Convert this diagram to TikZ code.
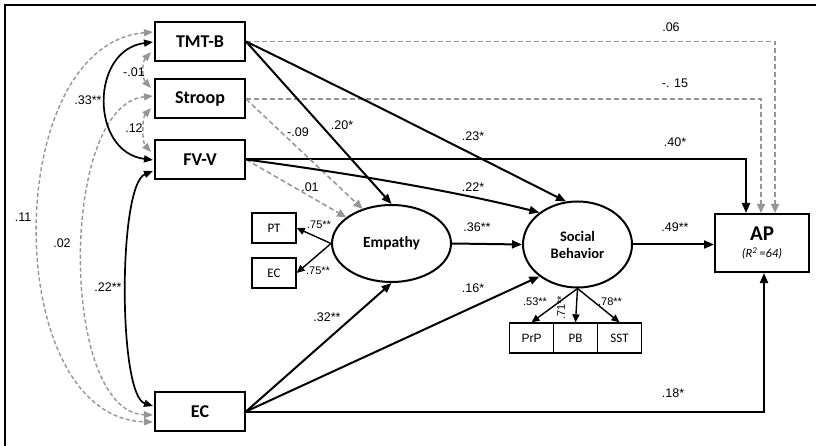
\documentclass[tikz,border=0pt]{standalone}
\usepackage{fontspec}
\setmainfont{Liberation Sans}
\newfontfamily\carl{Carlito}
\usetikzlibrary{arrows.meta,shapes.geometric,calc}
\definecolor{dgray}{RGB}{150,150,150}
\begin{document}
\begin{tikzpicture}[x=1pt,y=-1pt,
  bigbox/.style={draw,line width=2pt,minimum width=90pt,minimum height=39pt,inner sep=0pt,font=\carl\bfseries\fontsize{18}{20}\selectfont},
  smallbox/.style={draw,line width=1.3pt,minimum width=44pt,minimum height=30pt,inner sep=0pt,font=\carl\fontsize{13}{15}\selectfont},
  latent/.style={draw,ellipse,line width=2pt,inner sep=0pt,align=center,font=\carl\bfseries\fontsize{15.5}{18}\selectfont},
  solidarr/.style={line width=2pt,-{Triangle[length=10pt,width=8pt]}},
  grayarr/.style={line width=1.5pt,dgray,dashed,dash pattern=on 5pt off 3pt,-{Triangle[length=9pt,width=8pt]}},
  corsolid/.style={line width=1.7pt,{Triangle[length=9pt,width=7pt]}-{Triangle[length=9pt,width=7pt]}},
  corgray/.style={line width=1.4pt,dgray,dash pattern=on 4pt off 2.5pt,{Triangle[length=9pt,width=7pt]}-{Triangle[length=9pt,width=7pt]}},
  loadarr/.style={line width=1.4pt,-{Triangle[length=8pt,width=7pt]}},
  coef/.style={inner sep=0pt,font=\fontsize{12.5}{14}\selectfont},
  coefs/.style={inner sep=0pt,font=\fontsize{11}{12}\selectfont}
]
\useasboundingbox (0,0) rectangle (816,446);
\fill[white] (0,0) rectangle (816,446);
\draw[line width=1.5pt] (5,446) -- (5,5) -- (816,5);

% observed predictors
\node[bigbox] (tmtb) at (200,41.5) {TMT-B};
\node[bigbox] (stroop) at (200,99) {Stroop};
\node[bigbox] (fvv) at (200,159.5) {FV-V};
\node[bigbox] (ecx) at (200,411.5) {EC};

% latent variables
\node[latent,minimum width=119pt,minimum height=77pt] (emp) at (391.5,243.5) {Empathy};
\node[latent,minimum width=109pt,minimum height=86pt,font=\carl\bfseries\fontsize{14.5}{17}\selectfont] (sb) at (577.5,244.5) {Social\\Behavior};

% indicators
\node[smallbox] (pt) at (274,228) {PT};
\node[smallbox] (ecs) at (274,273) {EC};
\node[smallbox,font=\fontsize{12}{14}\selectfont] (prp) at (531.5,338) {PrP};
\node[smallbox] (pb) at (575.5,338) {PB};
\node[smallbox] (sst) at (619.5,338) {SST};

% outcome
\node[draw,line width=2pt,minimum width=94pt,minimum height=58pt,inner sep=0pt,align=center] (ap) at (762,243)
  {{\carl\bfseries\fontsize{21}{21}\selectfont AP}\\[5pt]{\carl\itshape\fontsize{12.5}{13}\selectfont (R\textsuperscript{2}\,=64)}};

% direct paths to AP
\draw[grayarr] (tmtb.east) -| ($(ap.north)+(13,0)$);
\draw[grayarr] (stroop.east) -| ($(ap.north)+(-1,0)$);
\draw[solidarr] (fvv.east) -| ($(ap.north)+(-16,0)$);
\draw[solidarr] (ecx.east) -| ($(ap.south)+(2,0)$);
\draw[solidarr] (sb.east) -- (sb.east -| ap.west);

% paths to empathy and social behavior
\draw[solidarr] (tmtb.east) -- (emp.north);
\draw[solidarr] (tmtb.east) .. controls (350,92) and (460,148) .. (sb.105);
\draw[grayarr] (stroop.east) -- (emp.130);
\draw[grayarr] (fvv.east) -- (emp.150);
\draw[solidarr] (fvv.east) .. controls (340,172) and (450,190) .. (sb.140);
\draw[solidarr] (emp.east) -- (sb.west);
\draw[solidarr] (ecx.east) -- (emp.south);
\draw[solidarr] (ecx.east) -- (sb.220);

% loadings
\draw[loadarr] (emp.west) -- (pt.east);
\draw[loadarr] (emp.west) -- (ecs.east);
\draw[loadarr] (sb.south) -- (prp.north);
\draw[loadarr] (sb.south) -- (pb.north);
\draw[loadarr] (sb.south) -- (sst.north);

% correlations
\coordinate (c11a) at (153,32);  \coordinate (c11b) at (153,422);
\coordinate (c33a) at (153,42);  \coordinate (c33b) at (153,160);
\coordinate (c01a) at (151,52);  \coordinate (c01b) at (151,88);
\coordinate (c02a) at (153,96);  \coordinate (c02b) at (153,415);
\coordinate (c12a) at (151,108); \coordinate (c12b) at (151,152);
\coordinate (c22a) at (153,171); \coordinate (c22b) at (153,406);
\draw[corgray] (c11a) .. controls (0,45) and (0,418) .. (c11b);
\draw[corgray] (c02a) .. controls (59,105) and (59,412) .. (c02b);
\draw[corgray] (c01a) .. controls (142,62) and (142,78) .. (c01b);
\draw[corgray] (c12a) .. controls (142,118) and (142,142) .. (c12b);
\draw[corsolid] (c33a) .. controls (90,50) and (90,152) .. (c33b);
\draw[corsolid] (c22a) .. controls (118,185) and (118,395) .. (c22b);

% coefficient labels
\node[coef] (l33) at (88,100) {.33**};
\node[coef] (l01) at (134,72) {-.01};
\node[coef] (l12) at (134,128) {.12};
\node[coef] (l11) at (23,217) {.11};
\node[coef] (l02) at (62,243) {.02};
\node[coef] (l22) at (108,287) {.22**};
\node[coef] (l20) at (342,125) {.20*};
\node[coef] (l09) at (298,132) {-.09};
\node[coef] (l23) at (473,136) {.23*};
\node[coef] (l01b) at (310,187) {.01};
\node[coef] (l22b) at (473,187) {.22*};
\node[coef] (l06) at (671,27) {.06};
\node[coef] (l15) at (675,83) {-. 15};
\node[coef] (l40) at (675,142) {.40*};
\node[coef] (l36) at (477,227) {.36**};
\node[coef] (l49) at (675,227) {.49**};
\node[coef] (l16) at (473,288) {.16*};
\node[coef] (l32) at (327,317) {.32**};
\node[coef] (l18) at (673,393) {.18*};
\node[coefs] (l75a) at (319,225) {.75**};
\node[coefs] (l75b) at (318,271) {.75**};
\node[coefs] (l53) at (535,302) {.53**};
\node[coefs] (l78) at (610,302) {.78**};
\node[coefs,rotate=90] (l71) at (561,308) {.71**};
\end{tikzpicture}
\end{document}
